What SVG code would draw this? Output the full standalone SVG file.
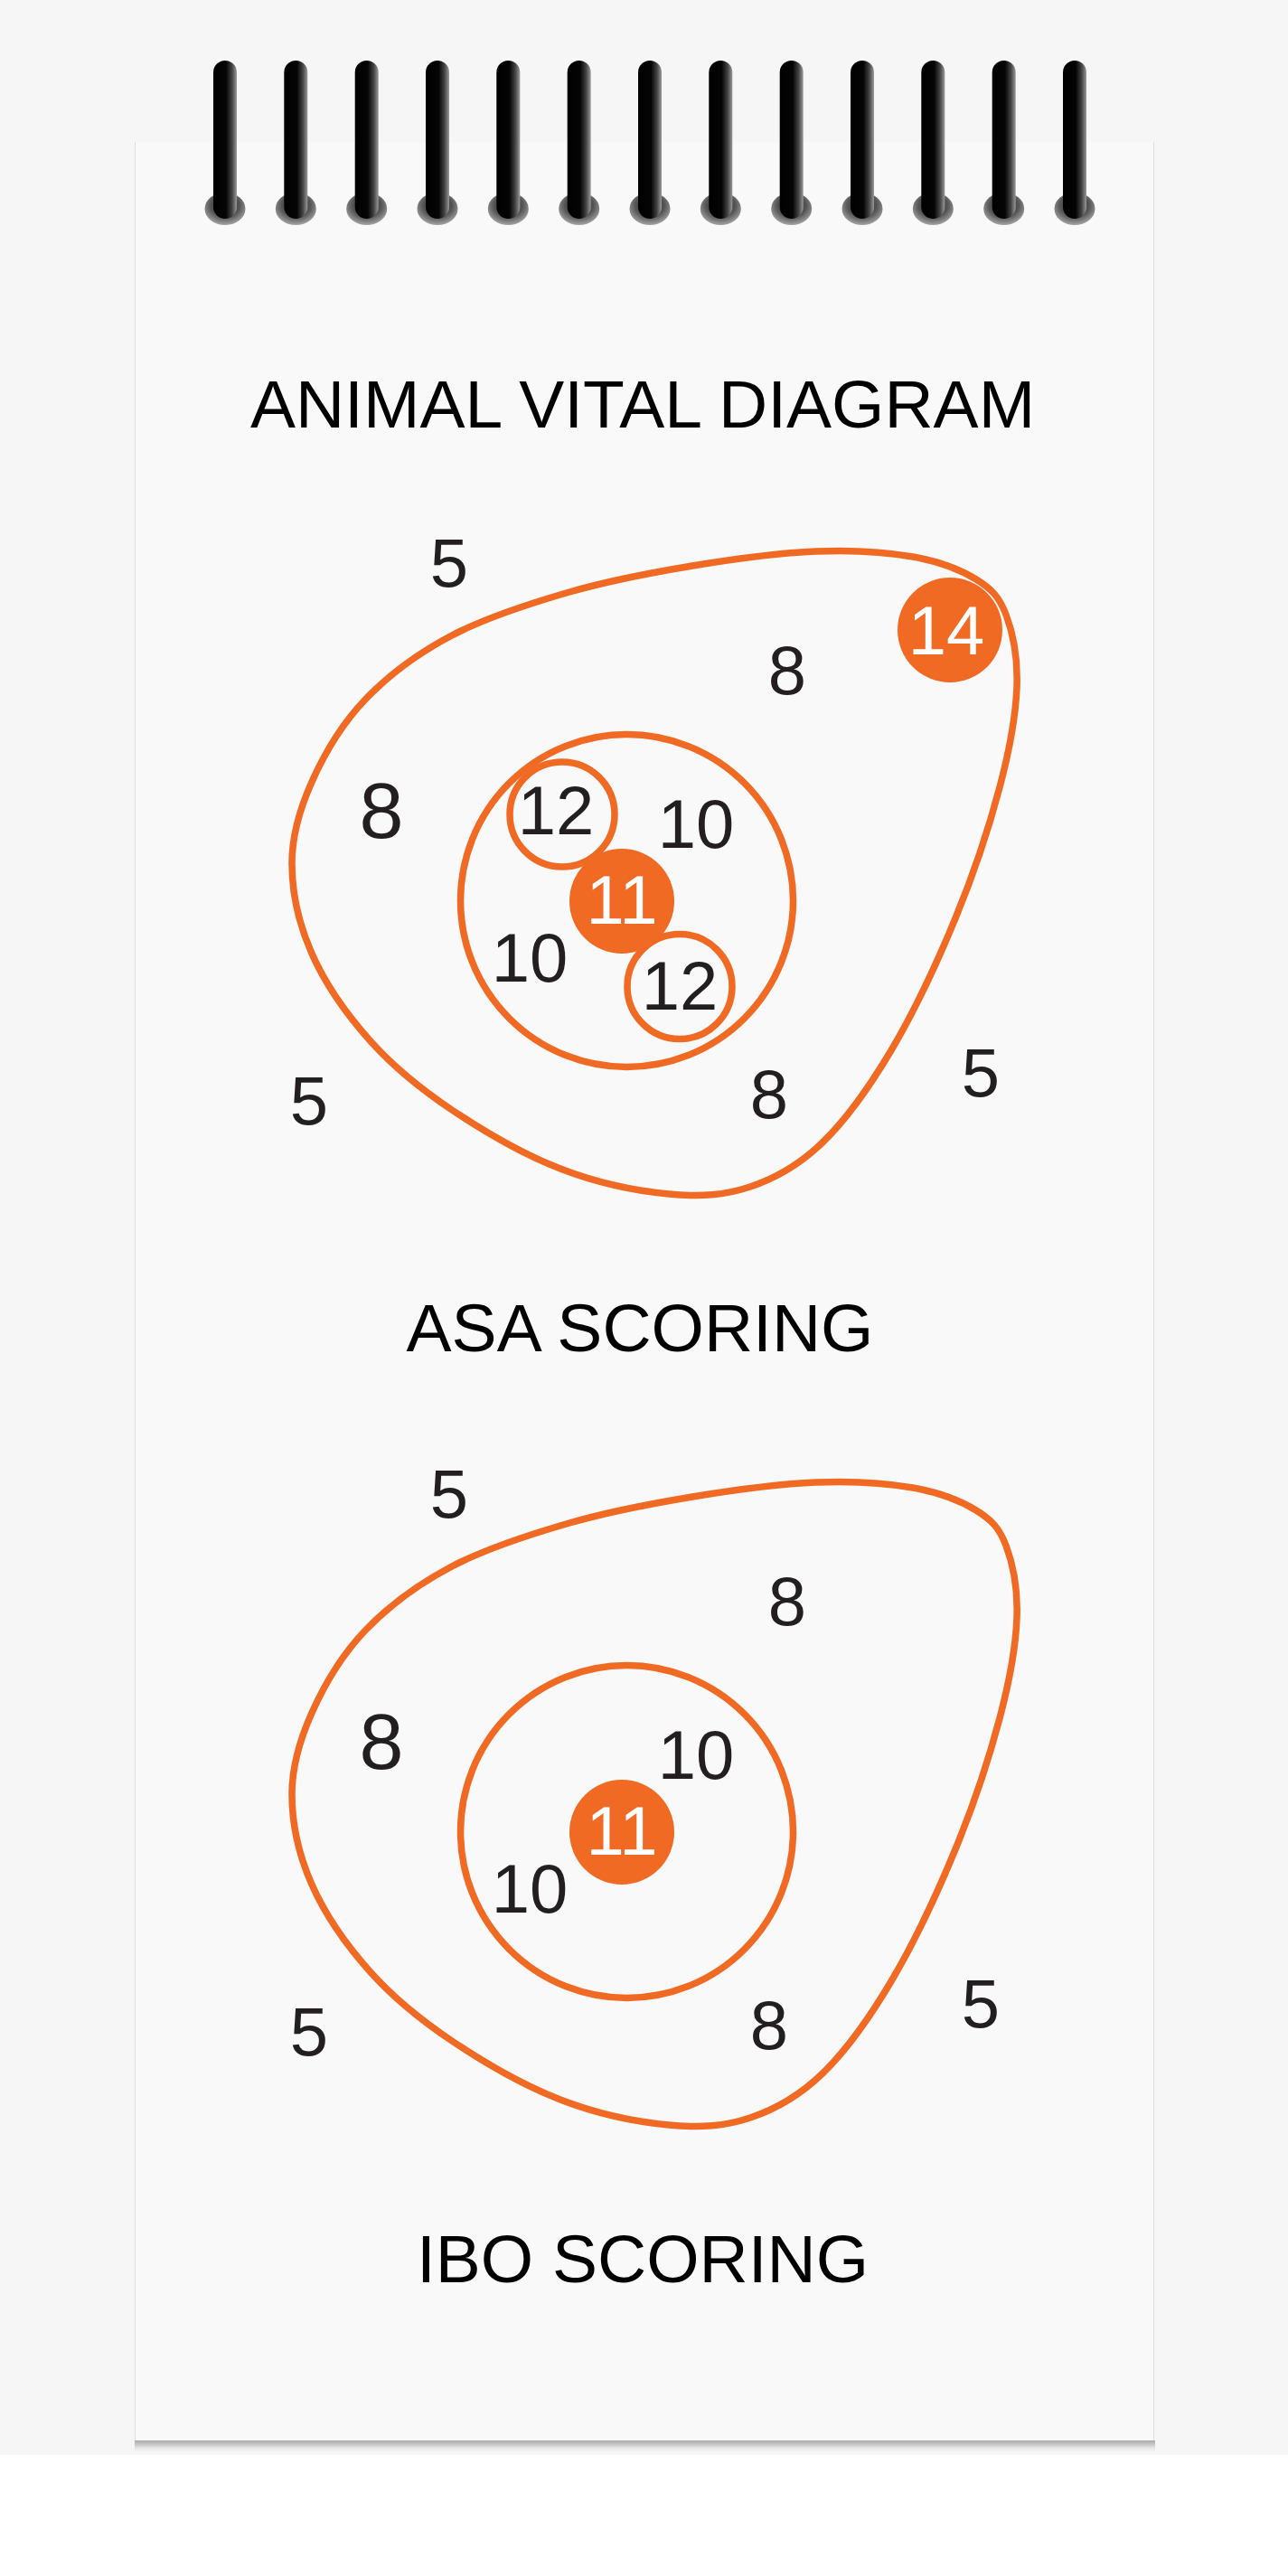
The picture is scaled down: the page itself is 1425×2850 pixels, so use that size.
<svg xmlns="http://www.w3.org/2000/svg" width="1425" height="2850" viewBox="0 0 1425 2850">
  <defs>
    <linearGradient id="barGrad" x1="0" y1="0" x2="1" y2="0">
      <stop offset="0" stop-color="#000"/>
      <stop offset="0.55" stop-color="#050505"/>
      <stop offset="0.8" stop-color="#444"/>
      <stop offset="1" stop-color="#9a9a9a"/>
    </linearGradient>
    <radialGradient id="holeGrad" cx="0.5" cy="0.4" r="0.6">
      <stop offset="0" stop-color="#2a2a2a"/>
      <stop offset="0.6" stop-color="#555"/>
      <stop offset="1" stop-color="#a5a5a5"/>
    </radialGradient>
    <linearGradient id="shadowGrad" x1="0" y1="0" x2="0" y2="1">
      <stop offset="0" stop-color="#a8a8a8"/>
      <stop offset="0.4" stop-color="#d0d0d0"/>
      <stop offset="1" stop-color="#f5f5f5" stop-opacity="0"/>
    </linearGradient>
    <g id="ring">
      <ellipse cx="0" cy="231" rx="22.5" ry="18" fill="url(#holeGrad)"/>
      <rect x="-13" y="67" width="26" height="175" rx="13" ry="13" fill="url(#barGrad)"/>
    </g>
    <path id="egg" d="M323,955 C323,923.3 331.5,895.2 345,865 C358.5,834.8 378.2,801 404,774 C429.8,747 462.3,722.8 500,703 C537.7,683.2 585.7,667.8 630,655 C674.3,642.2 720.5,633.5 766,626 C811.5,618.5 862.3,611.7 903,610 C943.7,608.3 980.5,610.8 1010,616 C1039.5,621.2 1062.8,630.3 1080,641 C1097.2,651.7 1105.5,660.2 1113,680 C1120.5,699.8 1126.2,728.2 1125,760 C1123.8,791.8 1117.3,828.3 1106,871 C1094.7,913.7 1077,967.5 1057,1016 C1037,1064.5 1010.5,1120.7 986,1162 C961.5,1203.3 936,1238.8 910,1264 C884,1289.2 858.3,1303.5 830,1313 C801.7,1322.5 775,1324.3 740,1321 C705,1317.7 660,1308.5 620,1293 C580,1277.5 535,1251.5 500,1228 C465,1204.5 435.8,1180.8 410,1152 C384.2,1123.2 359.5,1087.8 345,1055 C330.5,1022.2 323,986.7 323,955 Z"/>
  </defs>
  <style>
    .ln { fill: none; stroke: #F16A24; stroke-width: 7.5; }
    .hole { fill: #f9f9f9; stroke: #F16A24; stroke-width: 7.5; }
    .dot { fill: #F16A24; }
    .num { font-family: "Liberation Sans", Arial, sans-serif; font-size: 76px; fill: #231f20; text-anchor: middle; }
    .big { font-size: 88px; }
    .wn { fill: #ffffff; }
    .ttl { font-family: "Liberation Sans", Arial, sans-serif; font-size: 75px; fill: #000; text-anchor: middle; }
  </style>

  <g id="background">
    <rect x="0" y="0" width="1425" height="2850" fill="#ffffff"/>
    <rect x="0" y="0" width="1425" height="2716" fill="#f6f6f6"/>
  </g>

  <g id="paper">
    <rect x="149" y="2700" width="1129" height="14" fill="url(#shadowGrad)"/>
    <rect x="149" y="157" width="1127" height="2543" fill="#f9f9f9"/>
    <line x1="149.5" y1="157" x2="149.5" y2="2700" stroke="#dedede" stroke-width="1"/>
    <line x1="1276.5" y1="157" x2="1276.5" y2="2700" stroke="#dedede" stroke-width="1"/>
  </g>

  <g id="binding">
    <use href="#ring" x="249"/>
    <use href="#ring" x="327.3"/>
    <use href="#ring" x="405.7"/>
    <use href="#ring" x="484"/>
    <use href="#ring" x="562.3"/>
    <use href="#ring" x="640.7"/>
    <use href="#ring" x="719"/>
    <use href="#ring" x="797.3"/>
    <use href="#ring" x="875.7"/>
    <use href="#ring" x="954"/>
    <use href="#ring" x="1032.3"/>
    <use href="#ring" x="1110.7"/>
    <use href="#ring" x="1189"/>
  </g>

  <g id="title">
    <text class="ttl" x="711" y="473">ANIMAL VITAL DIAGRAM</text>
  </g>

  <g id="connectors"></g>

  <g id="asa-target">
    <use href="#egg" class="ln"/>
    <circle class="ln" cx="693.5" cy="996.5" r="184"/>
    <circle class="dot" cx="688" cy="997" r="58"/>
    <circle class="hole" cx="622" cy="901" r="58"/>
    <circle class="hole" cx="752" cy="1091.5" r="58"/>
    <circle class="dot" cx="1051" cy="697" r="58"/>
    <text class="num" x="497" y="649">5</text>
    <text class="num wn" x="1047" y="724">14</text>
    <text class="num" x="871" y="768">8</text>
    <text class="num big" x="422" y="927">8</text>
    <text class="num" x="615" y="923">12</text>
    <text class="num" x="770" y="938">10</text>
    <text class="num wn" x="688" y="1022">11</text>
    <text class="num" x="586" y="1086">10</text>
    <text class="num" x="752" y="1117">12</text>
    <text class="num" x="342" y="1244">5</text>
    <text class="num" x="851" y="1237">8</text>
    <text class="num" x="1085" y="1213">5</text>
  </g>

  <g id="asa-label">
    <text class="ttl" x="708" y="1495">ASA SCORING</text>
  </g>

  <g id="ibo-target" transform="translate(0,1030)">
    <use href="#egg" class="ln"/>
    <circle class="ln" cx="693.5" cy="996.5" r="184"/>
    <circle class="dot" cx="688" cy="997" r="58"/>
    <text class="num" x="497" y="649">5</text>
    <text class="num" x="871" y="768">8</text>
    <text class="num big" x="422" y="927">8</text>
    <text class="num" x="770" y="938">10</text>
    <text class="num wn" x="688" y="1022">11</text>
    <text class="num" x="586" y="1086">10</text>
    <text class="num" x="342" y="1244">5</text>
    <text class="num" x="851" y="1237">8</text>
    <text class="num" x="1085" y="1213">5</text>
  </g>

  <g id="ibo-label">
    <text class="ttl" x="711" y="2525">IBO SCORING</text>
  </g>
</svg>
